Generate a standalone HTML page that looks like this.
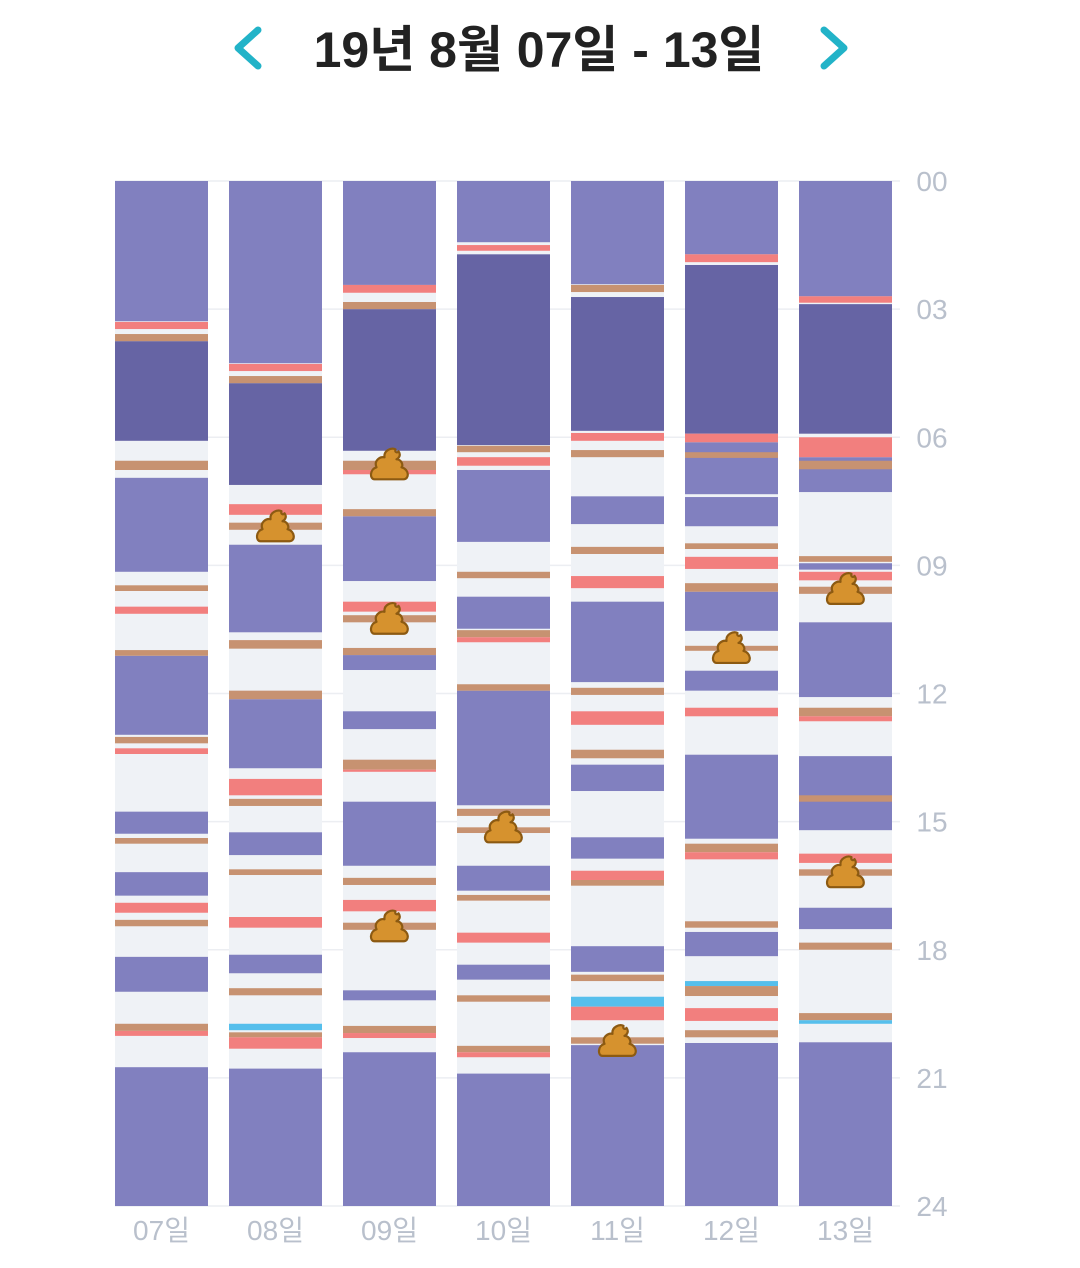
<!DOCTYPE html>
<html><head><meta charset="utf-8">
<style>
html,body{margin:0;padding:0;background:#fff;}
body{width:1080px;height:1263px;overflow:hidden;font-family:"Liberation Sans","Noto Sans CJK KR",sans-serif;}
</style></head>
<body>
<svg id="chart" width="1080" height="1263" viewBox="0 0 1080 1263" xmlns="http://www.w3.org/2000/svg">
  <g>
    <path d="M258 30 L238 48 L258 66" fill="none" stroke="#22b3c8" stroke-width="7" stroke-linecap="round" stroke-linejoin="round"/>
    <text x="539" y="67" text-anchor="middle" font-size="50" font-weight="bold" fill="#222" font-family="Liberation Sans, Noto Sans CJK KR, sans-serif">19년 8월 07일 - 13일</text>
    <path d="M824 30 L844 48 L824 66" fill="none" stroke="#22b3c8" stroke-width="7" stroke-linecap="round" stroke-linejoin="round"/>
  </g>
  <g id="grid"></g>
  <g id="bars"></g>
  <g id="yaxis"></g>
  <g id="xaxis"></g>
</svg>
<script>
const days = ["07일","08일","09일","10일","11일","12일","13일"];
const yTicks = ["00","03","06","09","12","15","18","21","24"];
// segment lists: [start, end, type]  L=light sleep, D=deep sleep, S=feed (salmon), B=diaper (brown), C=blue
const day07 = [["00:00","03:17","L"],["03:18","03:28","S"],["03:35","03:45","B"],["03:45","06:05","D"],["06:33","06:46","B"],["06:57","09:09","L"],["09:28","09:36","B"],["09:58","10:08","S"],["10:59","11:07","B"],["11:07","12:58","L"],["13:01","13:10","B"],["13:17","13:25","S"],["14:46","15:17","L"],["15:23","15:31","B"],["16:11","16:44","L"],["16:54","17:08","S"],["17:18","17:27","B"],["18:10","18:59","L"],["19:44","19:54","B"],["19:54","20:01","S"],["20:45","24:00","L"]];
const day08 = [["00:00","04:16","L"],["04:17","04:27","S"],["04:34","04:44","B"],["04:44","07:07","D"],["07:34","07:49","S"],["08:00","08:10","B"],["08:31","10:34","L"],["10:45","10:57","B"],["11:56","12:08","B"],["12:08","13:45","L"],["14:00","14:23","S"],["14:28","14:38","B"],["15:15","15:47","L"],["16:07","16:15","B"],["17:14","17:29","S"],["18:07","18:33","L"],["18:54","19:04","B"],["19:44","19:53","C"],["19:56","20:03","B"],["20:03","20:19","S"],["20:47","24:00","L"]];
const day09 = [["00:00","02:26","L"],["02:26","02:37","S"],["02:50","03:00","B"],["03:00","06:19","D"],["06:33","06:46","B"],["06:46","06:52","S"],["07:41","07:51","B"],["07:51","09:22","L"],["09:51","10:05","S"],["10:10","10:20","B"],["10:56","11:06","B"],["11:06","11:27","L"],["12:25","12:50","L"],["13:33","13:47","B"],["13:47","13:50","S"],["14:32","16:02","L"],["16:19","16:29","B"],["16:50","17:06","S"],["17:22","17:32","B"],["18:57","19:11","L"],["19:47","19:57","B"],["19:57","20:04","S"],["20:24","24:00","L"]];
const day10 = [["00:00","01:26","L"],["01:30","01:38","S"],["01:43","06:11","D"],["06:12","06:21","B"],["06:28","06:40","S"],["06:46","08:27","L"],["09:09","09:18","B"],["09:44","10:29","L"],["10:31","10:41","B"],["10:41","10:48","S"],["11:47","11:56","B"],["11:56","14:37","L"],["14:42","14:52","B"],["15:08","15:16","B"],["16:02","16:37","L"],["16:43","16:51","B"],["17:36","17:50","S"],["18:21","18:42","L"],["19:04","19:13","B"],["20:15","20:24","B"],["20:24","20:31","S"],["20:54","24:00","L"]];
const day11 = [["00:00","02:25","L"],["02:26","02:36","B"],["02:43","05:51","D"],["05:54","06:05","S"],["06:18","06:28","B"],["07:23","08:02","L"],["08:34","08:44","B"],["09:15","09:32","S"],["09:51","11:44","L"],["11:52","12:02","B"],["12:25","12:44","S"],["13:19","13:31","B"],["13:40","14:17","L"],["15:22","15:52","L"],["16:09","16:22","S"],["16:22","16:30","B"],["17:55","18:31","L"],["18:35","18:44","B"],["19:06","19:20","C"],["19:20","19:39","S"],["20:03","20:12","B"],["20:14","24:00","L"]];
const day12 = [["00:00","01:43","L"],["01:43","01:54","S"],["01:58","05:55","D"],["05:55","06:07","S"],["06:07","07:20","L"],["06:21","06:29","B"],["07:24","08:05","L"],["08:29","08:37","B"],["08:48","09:05","S"],["09:25","09:37","B"],["09:37","10:32","L"],["10:53","11:00","B"],["11:28","11:56","L"],["12:20","12:32","S"],["13:26","15:24","L"],["15:31","15:43","B"],["15:43","15:53","S"],["17:20","17:29","B"],["17:35","18:09","L"],["18:44","18:51","C"],["18:51","19:05","B"],["19:22","19:40","S"],["19:53","20:03","B"],["20:11","24:00","L"]];
const day13 = [["00:00","02:42","L"],["02:42","02:51","S"],["02:53","05:55","D"],["06:00","06:28","S"],["06:28","07:17","L"],["06:33","06:45","B"],["08:47","08:55","B"],["08:57","09:06","L"],["09:09","09:21","S"],["09:30","09:40","B"],["10:20","12:05","L"],["12:20","12:32","B"],["12:32","12:39","S"],["13:28","15:12","L"],["14:23","14:32","B"],["15:45","15:58","S"],["16:07","16:16","B"],["17:01","17:31","L"],["17:50","18:00","B"],["19:29","19:39","B"],["19:39","19:44","C"],["20:10","24:00","L"]];
const segments = [day07,day08,day09,day10,day11,day12,day13];
const poops = [[],["08:05"],["06:38","10:15","17:27"],["15:08"],["20:08"],["10:56"],["09:33","16:11"]];

const NS = "http://www.w3.org/2000/svg";
const plotTop = 181, plotBottom = 1206, colX0 = 115, colPitch = 114, colW = 93;
const colors = {L:"#8180bf",D:"#6664a4",S:"#f27f7e",B:"#c79271",C:"#56bfec"};
function toH(t){const p=t.split(":");return +p[0]+ (+p[1])/60;}
function yScale(h){return plotTop + h/24*(plotBottom-plotTop);}
function xScale(i){return colX0 + i*colPitch;}
function mk(tag,attrs,parent){const e=document.createElementNS(NS,tag);for(const k in attrs)e.setAttribute(k,attrs[k]);parent.appendChild(e);return e;}

const grid=document.getElementById("grid"), bars=document.getElementById("bars"), yaxis=document.getElementById("yaxis"), xaxis=document.getElementById("xaxis");
yTicks.forEach((t,i)=>{
  const y=yScale(+t);
  const ln=mk("line",{x1:115,x2:900,y1:y,y2:y,stroke:"#eceef2","stroke-width":1.5},grid);
  
  
  const tx=mk("text",{x:932,y:y+10,"text-anchor":"middle","font-size":28,fill:"#b9c0cc"},yaxis);
  tx.textContent=t;
  
  
});
segments.forEach((segs,i)=>{
  const x=xScale(i);
  const col=mk("g",{},bars);
  
  
  const bg=mk("rect",{x:x,y:plotTop,width:colW,height:plotBottom-plotTop,fill:"#eff2f6"},col);
  
  
  const blocks=segs.filter(s=>s[2]==="L"||s[2]==="D"), bands=segs.filter(s=>!(s[2]==="L"||s[2]==="D"));
  blocks.concat(bands).forEach(s=>{
    const y1=yScale(toH(s[0])), y2=yScale(toH(s[1]));
    const r=mk("rect",{x:x,y:y1,width:colW,height:Math.max(2,y2-y1),fill:colors[s[2]]},col);
    
    
  });
  const lb=mk("text",{x:x+colW/2,y:1240,"text-anchor":"middle","font-size":28,fill:"#b9c0cc"},xaxis);
  lb.textContent=days[i];
  
  
});
poops.forEach((list,i)=>{
  list.forEach(t=>{
    const cx=xScale(i)+colW/2, cy=yScale(toH(t));
    const g=mk("g",{transform:"translate("+cx+","+cy+")"},bars);
    
    
    mk("path",{d:"M-15 15 C-20 15 -20 5 -13 3 C-16 -4 -9 -8 -5 -7 C-6 -14 2 -17 6 -15 C5 -12 8 -11 9 -13 C12 -9 9 -6 7 -5 C12 -5 14 1 12 3 C20 5 20 15 14 15 Z",fill:"#d6922e",stroke:"#8c5a12","stroke-width":2.2,"stroke-linejoin":"round"},g);
  });
});
</script>
</body></html>
